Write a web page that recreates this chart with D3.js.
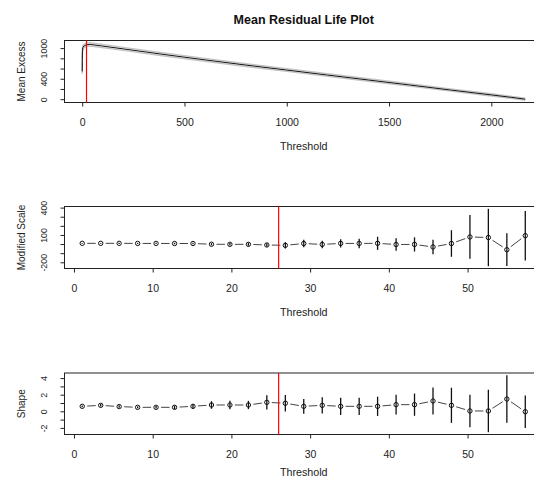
<!DOCTYPE html>
<html><head><meta charset="utf-8">
<script src="https://cdn.jsdelivr.net/npm/d3@7"></script>
<style>body{margin:0;background:#fff}svg{display:block;font-family:"Liberation Sans",Arial,sans-serif}</style>
</head><body><svg id="c" width="534" height="478"></svg>
<script>
// ---------- Panel 1: mean residual life ----------
const mrlThreshold = [0, 0.5, 1, 3, 8, 20, 40, 200, 400, 600, 800, 1000, 1200, 1400, 1600, 1800, 2000, 2100, 2166];
const mrlMean      = [543, 760, 930, 1010, 1040, 1065, 1072, 985, 875, 770, 668, 570, 472, 375, 278, 180, 84, 35, 0];
const mrlLower     = [500, 710, 880, 965, 1005, 1033, 1040, 955, 846, 742, 641, 544, 447, 351, 255, 158, 63, 15, -20];
const mrlUpper     = [586, 810, 980, 1055, 1075, 1097, 1104, 1015, 904, 798, 695, 596, 497, 399, 301, 202, 105, 55, 20];
const mrlXTicks = [0, 500, 1000, 1500, 2000];
const mrlYTicks = [0, 200, 400, 600, 800, 1000];
const mrlYLabels = ["0", "", "400", "", "", "1000"];
const mrlChosen = 21;

// ---------- Panels 2 & 3: parameter stability ----------
const stabThreshold = [1.05, 3.40, 5.74, 8.09, 10.43, 12.78, 15.12, 17.47, 19.81, 22.16, 24.50, 26.85, 29.19, 31.54, 33.88, 36.23, 38.57, 40.92, 43.26, 45.61, 47.95, 50.30, 52.64, 54.99, 57.33];
const modScale     = [8, 8, 8, 7, 7, 6, 6, -2, -3, -3, -10, -14, 6, -4, 7, 7, 8, -5, -4, -32, 6, 78, 72, -62, 92];
const modScaleHalf = [5, 5, 6, 6, 7, 8, 9, 12, 14, 16, 20, 35, 41, 41, 46, 52, 72, 68, 78, 80, 146, 240, 315, 180, 272];
const shapeVal     = [0.60, 0.72, 0.57, 0.48, 0.48, 0.48, 0.60, 0.76, 0.76, 0.76, 1.08, 0.97, 0.60, 0.72, 0.60, 0.60, 0.60, 0.80, 0.80, 1.24, 0.72, 0.04, 0.04, 1.48, -0.05];
const shapeHalf    = [0.10, 0.15, 0.15, 0.12, 0.15, 0.20, 0.28, 0.46, 0.50, 0.50, 0.86, 1.00, 0.88, 0.98, 1.04, 1.04, 1.16, 1.20, 1.34, 1.64, 2.12, 1.96, 2.56, 2.86, 1.96];
const stabXTicks = [0, 10, 20, 30, 40, 50];
const modYTicks = [-200, -100, 0, 100, 200, 300, 400];
const modYLabels = ["-200", "", "", "100", "", "", "400"];
const shapeYTicks = [-2, -1, 0, 1, 2, 3, 4];
const shapeYLabels = ["-2", "", "0", "", "2", "", "4"];
const stabChosen = 26;

const chartTitle = "Mean Residual Life Plot";
const xTitle = "Threshold";

// ---------- drawing ----------
const svg = d3.select("#c");
svg.append("rect").attr("width", 534).attr("height", 478).attr("fill", "#fff");
const L = 64.5, R = 543;
function padded(lo, hi) { const p = (hi - lo) * 0.04; return [lo - p, hi + p]; }

function makePanel(top, bottom, xVals, yLo, yHi, xTicks, yTicks, yLabels, yTitle, titleOffset) {
  const x = d3.scaleLinear().domain(padded(d3.min(xVals), d3.max(xVals))).range([L, R]);
  const y = d3.scaleLinear().domain(padded(yLo, yHi)).range([bottom, top]);
  const g = svg.append("g");
  const ax = g.append("g").attr("transform", `translate(0,${bottom})`)
    .call(d3.axisBottom(x).tickValues(xTicks).tickSize(4).tickSizeOuter(0).tickFormat(d => String(d)));
  ax.select(".domain").remove();
  ax.selectAll("line").attr("stroke", "#222");
  ax.selectAll("text").attr("y", 23.5).attr("dy", 0).attr("font-size", 10.5)
    .attr("fill", "#222").attr("font-family", "Liberation Sans, Arial, sans-serif");
  const ay = g.append("g").attr("transform", `translate(${L},0)`)
    .call(d3.axisLeft(y).tickValues(yTicks).tickSize(4).tickSizeOuter(0)
      .tickFormat((d, i) => yLabels[i]));
  ay.select(".domain").remove();
  ay.selectAll("line").attr("stroke", "#222");
  ay.selectAll("text").attr("x", 0).attr("dy", 0).attr("y", -17.5)
    .attr("transform", "rotate(-90)").attr("text-anchor", "middle")
    .attr("font-size", 8.8).attr("fill", "#222")
    .attr("font-family", "Liberation Sans, Arial, sans-serif");
  g.append("rect").attr("x", L).attr("y", top).attr("width", R - L).attr("height", bottom - top)
    .attr("fill", "none").attr("stroke", "#222").attr("stroke-width", 1);
  g.append("text").attr("x", (L + R) / 2).attr("y", bottom + titleOffset).attr("text-anchor", "middle")
    .attr("font-size", 10.7).attr("fill", "#222").text(xTitle);
  g.append("text").attr("transform", `translate(24.5,${(top + bottom) / 2}) rotate(-90)`)
    .attr("text-anchor", "middle").attr("font-size", 10).attr("fill", "#222").text(yTitle);
  const data = g.append("g");
  return { x, y, g: data, top, bottom };
}

svg.append("text").attr("x", (L + R) / 2).attr("y", 24).attr("text-anchor", "middle")
  .attr("font-size", 12.5).attr("font-weight", "bold").attr("fill", "#111").text(chartTitle);

// Panel 1
const p1 = makePanel(40.5, 102.5, mrlThreshold, d3.min(mrlLower), d3.max(mrlUpper),
  mrlXTicks, mrlYTicks, mrlYLabels, "Mean Excess", 47);
const ln = (arr) => d3.line().x((d, i) => p1.x(mrlThreshold[i])).y(d => p1.y(d))(arr);
p1.g.append("path").attr("d", ln(mrlUpper)).attr("fill", "none").attr("stroke", "#c4c4c4").attr("stroke-width", 1.4);
p1.g.append("path").attr("d", ln(mrlLower)).attr("fill", "none").attr("stroke", "#c4c4c4").attr("stroke-width", 1.4);
p1.g.append("path").attr("d", ln(mrlMean)).attr("fill", "none").attr("stroke", "#111").attr("stroke-width", 1);
p1.g.append("line").attr("x1", p1.x(mrlChosen)).attr("x2", p1.x(mrlChosen))
  .attr("y1", p1.top).attr("y2", p1.bottom).attr("stroke", "#f00").attr("stroke-width", 1.2);

function stabPanel(top, bottom, vals, half, yTicks, yLabels, yTitle, titleOffset) {
  const lo = d3.min(vals.map((v, i) => v - half[i]));
  const hi = d3.max(vals.map((v, i) => v + half[i]));
  const p = makePanel(top, bottom, stabThreshold, lo, hi, stabXTicks, yTicks, yLabels, yTitle, titleOffset);
  const gap = 5;
  for (let i = 0; i < vals.length - 1; i++) {
    const x1 = p.x(stabThreshold[i]), y1 = p.y(vals[i]);
    const x2 = p.x(stabThreshold[i + 1]), y2 = p.y(vals[i + 1]);
    const dx = x2 - x1, dy = y2 - y1, len = Math.hypot(dx, dy);
    if (len <= 2 * gap) continue;
    const ux = dx / len, uy = dy / len;
    p.g.append("line").attr("x1", x1 + ux * gap).attr("y1", y1 + uy * gap)
      .attr("x2", x2 - ux * gap).attr("y2", y2 - uy * gap)
      .attr("stroke", "#444").attr("stroke-width", 1);
  }
  p.g.selectAll(".eb").data(vals).enter().append("line")
    .attr("x1", (d, i) => p.x(stabThreshold[i])).attr("x2", (d, i) => p.x(stabThreshold[i]))
    .attr("y1", (d, i) => p.y(d - half[i])).attr("y2", (d, i) => p.y(d + half[i]))
    .attr("stroke", "#111").attr("stroke-width", 1.3);
  p.g.selectAll(".pt").data(vals).enter().append("circle")
    .attr("cx", (d, i) => p.x(stabThreshold[i])).attr("cy", d => p.y(d)).attr("r", 2.2)
    .attr("fill", "none").attr("stroke", "#111").attr("stroke-width", 1);
  p.g.append("line").attr("x1", p.x(stabChosen)).attr("x2", p.x(stabChosen))
    .attr("y1", p.top).attr("y2", p.bottom).attr("stroke", "#f00").attr("stroke-width", 1.2);
}
stabPanel(206.5, 268.5, modScale, modScaleHalf, modYTicks, modYLabels, "Modified Scale", 47);
stabPanel(373, 434.5, shapeVal, shapeHalf, shapeYTicks, shapeYLabels, "Shape", 41.5);
</script></body></html>
